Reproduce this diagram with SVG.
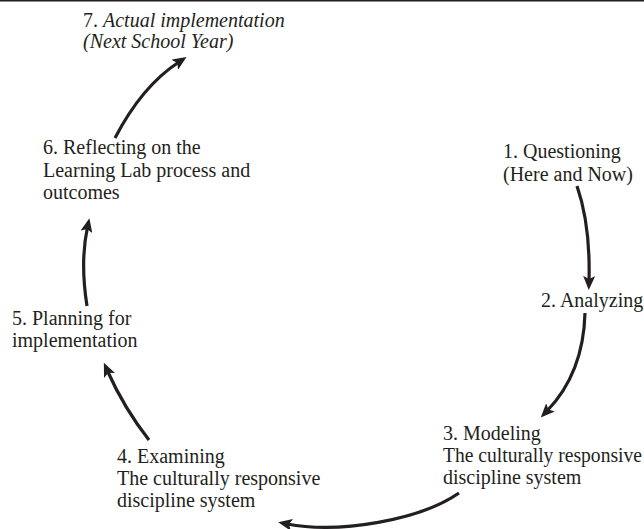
<svg xmlns="http://www.w3.org/2000/svg" width="644" height="529" viewBox="0 0 644 529">
<style>
text{font-family:"Liberation Serif","Times New Roman",serif;font-size:20px;fill:#231f20}
.it{font-style:italic}
.arr{fill:none;stroke:#231f20;stroke-width:3.2;marker-end:url(#ah)}
</style>
<defs>
<marker id="ah" markerUnits="userSpaceOnUse" viewBox="0 0 14 12" refX="5" refY="6" markerWidth="14" markerHeight="12" orient="auto">
<path d="M0,0 L14,6 L0,12 L3,6 z" fill="#231f20"/>
</marker>
</defs>
<rect width="644" height="529" fill="#fff"/>
<line x1="0" y1="0.8" x2="644" y2="0.8" stroke="#231f20" stroke-width="1.6"/>
<g id="connectors">
<path class="arr" d="M577,186 C586,212 590,245 589,281"/>
<path class="arr" d="M585,313 C584,350 572,385 547,411"/>
<path class="arr" d="M459,493 C420,520 340,534 287,524"/>
<path class="arr" d="M149,440 Q124,408 107.5,371"/>
<path class="arr" d="M87,306 Q80,262 87.5,227"/>
<path class="arr" d="M115,138 Q142,86 179,62"/>
</g>
<g id="node1"><text x="503" y="158">1. Questioning</text><text x="503" y="181">(Here and Now)</text></g>
<g id="node2"><text x="541" y="307">2. Analyzing</text></g>
<g id="node3"><text x="443" y="440">3. Modeling</text><text x="443" y="462" textLength="199" lengthAdjust="spacingAndGlyphs">The culturally responsive</text><text x="443" y="484">discipline system</text></g>
<g id="node4"><text x="117" y="463">4. Examining</text><text x="117" y="485">The culturally responsive</text><text x="117" y="507">discipline system</text></g>
<g id="node5"><text x="12" y="325">5. Planning for</text><text x="12" y="347">implementation</text></g>
<g id="node6"><text x="43" y="154">6. Reflecting on the</text><text x="43" y="177">Learning Lab process and</text><text x="43" y="199">outcomes</text></g>
<g id="node7"><text x="83" y="27">7. <tspan class="it">Actual implementation</tspan></text><text x="83" y="48" class="it">(Next School Year)</text></g>
</svg>
